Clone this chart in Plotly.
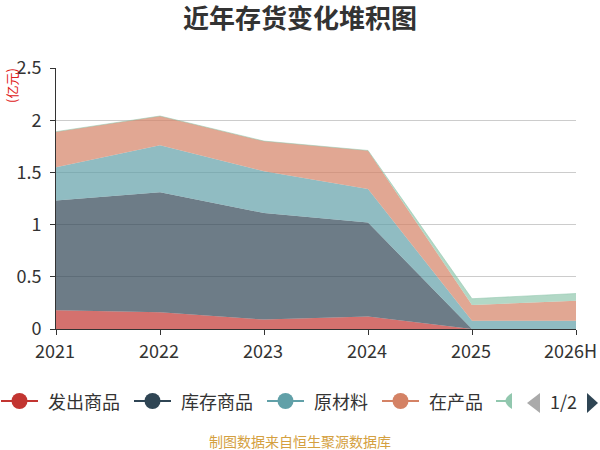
import plotly.graph_objects as go

years = ["2021", "2022", "2023", "2024", "2025", "2026H"]
fachu = [0.18, 0.16, 0.09, 0.12, 0.0, 0.0]
kucun = [1.05, 1.15, 1.02, 0.90, 0.0, 0.0]
yuancailiao = [0.32, 0.45, 0.40, 0.32, 0.08, 0.08]
zaichanpin = [0.34, 0.28, 0.29, 0.37, 0.15, 0.19]
zhouzhuan = [0.0, 0.0, 0.0, 0.0, 0.06, 0.07]

names = ["发出商品", "库存商品", "原材料", "在产品", "周转材料"]
series = [fachu, kucun, yuancailiao, zaichanpin, zhouzhuan]
colors = [(194, 53, 49), (47, 69, 84), (97, 160, 168), (212, 130, 101), (145, 199, 174)]
y_ticks = [0, 0.5, 1, 1.5, 2, 2.5]
y_tick_text = ["0", "0.5", "1", "1.5", "2", "2.5"]

FONT = "Noto Sans CJK SC"
W, H = 600, 450
# plot box in pixels: x 56..576, y 68..329
L, R = 56, W - 576
T, B = 68, H - 329
PW, PH = W - L - R, H - T - B


def px(x):
    return (x - L) / PW


def py(y):
    return (H - B - y) / PH


fig = go.Figure()
for i, (nm, vals, c) in enumerate(zip(names, series, colors)):
    fig.add_trace(go.Scatter(
        x=years, y=vals, name=nm, mode="lines", stackgroup="one",
        line=dict(width=0.8 if i == 4 else 0, color="rgba(%d,%d,%d,0.7)" % c),
        fillcolor="rgba(%d,%d,%d,0.7)" % c,
        showlegend=False, hoverinfo="x+y+name",
    ))

fig.update_layout(
    width=W, height=H,
    margin=dict(l=L, r=R, t=T, b=B, autoexpand=False),
    paper_bgcolor="white", plot_bgcolor="white",
    font=dict(family=FONT, size=18, color="#333"),
    title=dict(text="<b>近年存货变化堆积图</b>", xref="paper", x=px(300), xanchor="center",
               y=1 - 18.5 / H, yanchor="middle",
               font=dict(size=26, color="#333", family=FONT)),
    xaxis=dict(type="category", range=[0, 5], showgrid=False,
               showline=True, linecolor="#333", linewidth=1,
               ticks="outside", ticklen=5, tickcolor="#333", automargin=False,
               showticklabels=False, fixedrange=True),
    yaxis=dict(range=[0, 2.5], tickvals=y_ticks, ticktext=y_tick_text,
               showgrid=True, gridcolor="#ccc", gridwidth=1,
               showline=True, linecolor="#333", linewidth=1,
               ticks="outside", ticklen=5, tickcolor="#333", automargin=False,
               tickfont=dict(size=18, color="#333"), zeroline=False,
               ticklabelstandoff=5, fixedrange=True),
    showlegend=False,
)

# x tick labels (last one kept inside the canvas, as in the original)
for i, yr in enumerate(years):
    last = i == len(years) - 1
    fig.add_annotation(text=yr, x=i, xref="x", y=0, yref="paper",
                       yanchor="middle", yshift=-20.5,
                       xanchor="right" if last else "center",
                       xshift=23 if last else -1.5,
                       showarrow=False, font=dict(size=18, color="#333", family=FONT))

fig.add_annotation(text="(亿元)", xref="paper", yref="paper",
                   x=px(11), y=py(86), textangle=-90, showarrow=False,
                   xanchor="center", yanchor="middle",
                   font=dict(size=13, color="#e02020", family=FONT))
fig.add_annotation(text="制图数据来自恒生聚源数据库", xref="paper", yref="paper",
                   x=px(300), y=py(441), showarrow=False,
                   xanchor="center", yanchor="middle",
                   font=dict(size=14, color="#d4a040", family=FONT))

# manual legend (page 1 of 2, as in the original)
LEG_Y = 401
x0 = 1
for nm, c in zip(names[:4], colors[:4]):
    rgb = "rgb(%d,%d,%d)" % c
    fig.add_shape(type="line", xref="paper", yref="paper",
                  x0=px(x0), x1=px(x0 + 37), y0=py(LEG_Y), y1=py(LEG_Y),
                  line=dict(color=rgb, width=2))
    cx = x0 + 18.5
    fig.add_shape(type="circle", xref="paper", yref="paper",
                  x0=px(cx - 8), x1=px(cx + 8), y0=py(LEG_Y + 8), y1=py(LEG_Y - 8),
                  fillcolor=rgb, line=dict(width=0))
    fig.add_annotation(text=nm, xref="paper", yref="paper",
                       x=px(x0 + 45), y=py(LEG_Y), xanchor="left", yanchor="middle",
                       showarrow=False, font=dict(size=18, color="#333", family=FONT))
    x0 = x0 + 45 + 18 * len(nm) + 16

g = "rgb(%d,%d,%d)" % colors[4]
fig.add_shape(type="line", xref="paper", yref="paper",
              x0=px(496), x1=px(506), y0=py(LEG_Y), y1=py(LEG_Y),
              line=dict(color=g, width=2))
fig.add_shape(type="path", xref="paper", yref="paper",
              path="M %f %f Q %f %f %f %f L %f %f Z" % (
                  px(512), py(393), px(499), py(401), px(512), py(409), px(512), py(393)),
              fillcolor=g, line=dict(width=0))
fig.add_shape(type="path", xref="paper", yref="paper",
              path="M %f %f L %f %f L %f %f Z" % (px(527), py(403), px(540), py(393), px(540), py(413)),
              fillcolor="#aaa", line=dict(width=0))
fig.add_annotation(text="1/2", xref="paper", yref="paper",
                   x=px(563), y=py(401), showarrow=False,
                   xanchor="center", yanchor="middle",
                   font=dict(size=18, color="#333", family=FONT))
fig.add_shape(type="path", xref="paper", yref="paper",
              path="M %f %f L %f %f L %f %f Z" % (px(598), py(403), px(587), py(393), px(587), py(413)),
              fillcolor="#2f4554", line=dict(width=0))

fig.write_html("out.html", config={"displayModeBar": False},
               post_script="document.body.style.margin='0';document.body.style.overflow='hidden';")
